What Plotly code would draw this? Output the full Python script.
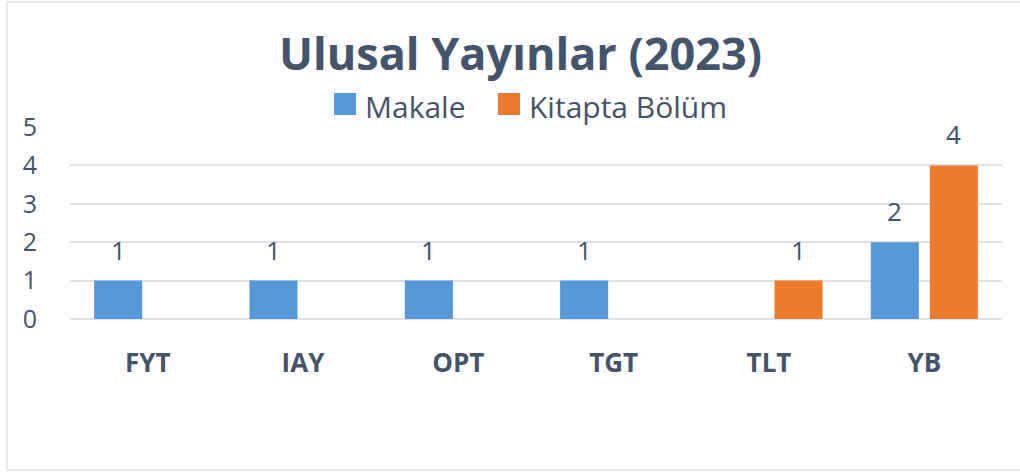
import plotly.graph_objects as go

categories = ["FYT", "IAY", "OPT", "TGT", "TLT", "YB"]
makale = [1, 1, 1, 1, None, 2]
kitapta_bolum = [None, None, None, None, 1, 4]
series_names = ["Makale", "Kitapta Bölüm"]
series_colors = ["#5599D8", "#EF7B2C"]
title_text = "Ulusal Yayınlar (2023)"
y_ticks = [0, 1, 2, 3, 4, 5]

TXT = "#44546A"
FONT = "Open Sans"

L, R, T, B = 70, 18, 127, 153
W, H = 1020, 472
pw, ph = W - L - R, H - T - B


def px2x(px):
    return (px - L) / pw


def py2y(py):
    return (H - B - py) / ph


fig = go.Figure()
series = [makale, kitapta_bolum]
for name, vals, col in zip(series_names, series, series_colors):
    fig.add_trace(go.Bar(
        x=categories, y=vals, name=name,
        marker=dict(color=col, line=dict(width=0)),
        showlegend=False, hoverinfo="skip",
    ))

annotations = []
# data labels, placed from the data values
shifts = [-29.5, 29.5]
for vals, xs in zip(series, shifts):
    for c, v in zip(categories, vals):
        if v is None:
            continue
        annotations.append(dict(x=c, y=v, xref="x", yref="y", text=str(v),
                                showarrow=False, xshift=xs, yshift=31,
                                yanchor="middle",
                                font=dict(family=FONT, size=26, color=TXT)))

# title
annotations.append(dict(x=px2x(520), y=py2y(53), xref="paper", yref="paper",
                        text="<b>" + title_text + "</b>", showarrow=False,
                        xanchor="center", yanchor="middle",
                        font=dict(family=FONT, size=45, color=TXT)))

# manual legend
leg_sq = [(334, 356), (498, 520)]
shapes = []
for (x0, x1), name, col in zip(leg_sq, series_names, series_colors):
    shapes.append(dict(type="rect", xref="paper", yref="paper",
                       x0=px2x(x0), x1=px2x(x1), y0=py2y(115), y1=py2y(93),
                       fillcolor=col, line=dict(width=0)))
    annotations.append(dict(x=px2x(x1 + 7), y=py2y(107), xref="paper", yref="paper",
                            text=name, showarrow=False, xanchor="left", yanchor="middle",
                            font=dict(family=FONT, size=30, color=TXT)))

# outer border
shapes.append(dict(type="rect", xref="paper", yref="paper",
                   x0=px2x(7), x1=px2x(1030), y0=py2y(470), y1=py2y(2),
                   line=dict(color="#DDE1E6", width=1.5), fillcolor="rgba(0,0,0,0)",
                   layer="below"))

fig.update_layout(
    width=W, height=H,
    margin=dict(l=L, r=R, t=T, b=B, autoexpand=False),
    paper_bgcolor="white", plot_bgcolor="white",
    barmode="group", bargap=0.24, bargroupgap=0.186,
    font=dict(family=FONT, color=TXT),
    showlegend=False,
    xaxis=dict(showgrid=False, showline=False, ticks="", ticklabelstandoff=26,
               tickfont=dict(family=FONT, size=26, color=TXT, weight="bold")),
    yaxis=dict(range=[0, 5], tickvals=y_ticks, showgrid=True, gridcolor="#DDE1E8",
               gridwidth=1.5, zeroline=True, zerolinecolor="#DDE1E8", zerolinewidth=1.5,
               showline=False, ticks="", ticklabelstandoff=32,
               tickfont=dict(family=FONT, size=25, color=TXT)),
    shapes=shapes,
    annotations=annotations,
)

fig.write_html("out.html", config={"displayModeBar": False},
               post_script="document.body.style.margin='0';document.body.style.overflow='hidden';")
